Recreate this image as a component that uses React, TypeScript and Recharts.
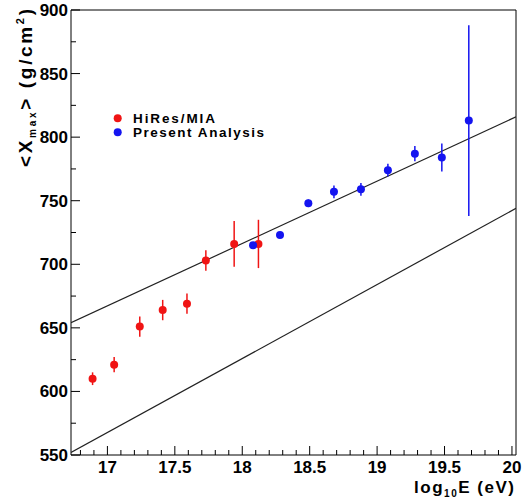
import {
  ComposedChart,
  ErrorBar,
  Legend,
  Line,
  ReferenceArea,
  Scatter,
  XAxis,
  YAxis,
} from "recharts";

// HiRes/MIA points: log10E, <Xmax>, error
const hiresE = [16.89, 17.05, 17.24, 17.41, 17.59, 17.73, 17.94, 18.12];
const hiresXmax = [610, 621, 651, 664, 669, 703, 716, 716];
const hiresErr = [5, 6, 8, 8, 8, 8, 18, 19];

// present analysis
const presentE = [18.08, 18.28, 18.49, 18.68, 18.88, 19.08, 19.28, 19.48, 19.68];
const presentXmax = [715, 723, 748, 757, 759, 774, 787, 784, 813];
const presentErr = [2, 2, 3, 5, 5, 5, 6, 11, 75];

// two reference lines (end points)
const upperLineE = [16.73, 20.03];
const upperLineXmax = [654, 816];
const lowerLineE = [16.73, 20.03];
const lowerLineXmax = [552, 744];

const xDomain = [16.73, 20.03];
const yDomain = [550, 900];

const xTicks = [
  16.8, 16.9, 17, 17.1, 17.2, 17.3, 17.4, 17.5, 17.6, 17.7, 17.8, 17.9, 18,
  18.1, 18.2, 18.3, 18.4, 18.5, 18.6, 18.7, 18.8, 18.9, 19, 19.1, 19.2, 19.3,
  19.4, 19.5, 19.6, 19.7, 19.8, 19.9, 20,
];
const xLabels = [17, 17.5, 18, 18.5, 19, 19.5, 20];
const yTicks = [
  550, 575, 600, 625, 650, 675, 700, 725, 750, 775, 800, 825, 850, 875, 900,
];
const yLabels = [550, 600, 650, 700, 750, 800, 850, 900];

const RED = "#f01414";
const BLUE = "#1414f0";
const FONT = "'Liberation Sans', Arial, sans-serif";

const hiresData = hiresE.map((x, i) => ({ x, y: hiresXmax[i], err: hiresErr[i] }));
const presentData = presentE.map((x, i) => ({
  x,
  y: presentXmax[i],
  err: presentErr[i],
}));
const upperData = upperLineE.map((x, i) => ({ x, y: upperLineXmax[i] }));
const lowerData = lowerLineE.map((x, i) => ({ x, y: lowerLineXmax[i] }));

const XTick = (props: any) => {
  const { x, y, payload } = props;
  const major = xLabels.includes(payload.value);
  return (
    <g>
      <line x1={x} x2={x} y1={y} y2={y - (major ? 9 : 5)} stroke="#000" />
      {major && (
        <text
          x={x}
          y={y + 18}
          textAnchor="middle"
          fontFamily={FONT}
          fontWeight="bold"
          fontSize={17}
          fill="#000"
        >
          {payload.value}
        </text>
      )}
    </g>
  );
};

const YTick = (props: any) => {
  const { x, y, payload } = props;
  const major = yLabels.includes(payload.value);
  return (
    <g>
      <line x1={x} x2={x + (major ? 9 : 5)} y1={y} y2={y} stroke="#000" />
      {major && (
        <text
          x={x - 3}
          y={y + 6}
          textAnchor="end"
          fontFamily={FONT}
          fontWeight="bold"
          fontSize={17}
          fill="#000"
        >
          {payload.value}
        </text>
      )}
    </g>
  );
};

const YTitle = () => (
  <text
    x={32}
    y={9}
    transform="rotate(-90, 32, 9)"
    textAnchor="end"
    fontFamily={FONT}
    fontWeight="bold"
    fontSize={19}
    fill="#000"
    textLength={158}
    lengthAdjust="spacing"
  >
    {"<X"}
    <tspan fontSize={10} dy={4}>
      max
    </tspan>
    <tspan dy={-4}>{"> (g/cm"}</tspan>
    <tspan fontSize={11} dy={-8}>
      2
    </tspan>
    <tspan dy={8}>)</tspan>
  </text>
);

const XTitle = () => (
  <text
    x={514}
    y={493}
    textAnchor="end"
    fontFamily={FONT}
    fontWeight="bold"
    fontSize={17}
    fill="#000"
    textLength={100}
    lengthAdjust="spacing"
  >
    log
    <tspan fontSize={10} dy={4}>
      10
    </tspan>
    <tspan dy={-4}>E (eV)</tspan>
  </text>
);

const LegendBox = () => (
  <svg width={200} height={40}>
    <circle cx={17.7} cy={18.3} r={4} fill={RED} />
    <circle cx={17.7} cy={32.3} r={4} fill={BLUE} />
    <text
      x={33}
      y={23}
      fontFamily={FONT}
      fontWeight="bold"
      fontSize={13.5}
      fill="#000"
      textLength={82}
      lengthAdjust="spacing"
    >
      HiRes/MIA
    </text>
    <text
      x={33}
      y={37}
      fontFamily={FONT}
      fontWeight="bold"
      fontSize={13.5}
      fill="#000"
      textLength={131}
      lengthAdjust="spacing"
    >
      Present Analysis
    </text>
  </svg>
);

const Dot = (color: string) => (props: any) =>
  <circle cx={props.cx} cy={props.cy} r={4} fill={color} />;

export default function App() {
  return (
    <div style={{ position: "absolute", left: 0, top: 0, background: "#fff" }}>
      <ComposedChart
        width={528}
        height={502}
        margin={{ top: 10, right: 12, bottom: 0, left: 0 }}
      >
        <XAxis
          type="number"
          dataKey="x"
          domain={xDomain}
          ticks={xTicks}
          interval={0}
          allowDataOverflow
          height={47}
          tickSize={0}
          tickMargin={0}
          tick={<XTick />}
          axisLine={false}
          label={<XTitle />}
        />
        <YAxis
          type="number"
          dataKey="y"
          domain={yDomain}
          ticks={yTicks}
          interval={0}
          allowDataOverflow
          width={71}
          tickSize={0}
          tickMargin={0}
          tick={<YTick />}
          axisLine={false}
          label={<YTitle />}
        />
        <ReferenceArea
          x1={xDomain[0]}
          x2={xDomain[1]}
          y1={yDomain[0]}
          y2={yDomain[1]}
          fill="none"
          stroke="#000"
          strokeWidth={1}
        />
        <Line
          data={upperData}
          dataKey="y"
          type="linear"
          stroke="#222"
          strokeWidth={1.2}
          dot={false}
          activeDot={false}
          isAnimationActive={false}
        />
        <Line
          data={lowerData}
          dataKey="y"
          type="linear"
          stroke="#222"
          strokeWidth={1.2}
          dot={false}
          activeDot={false}
          isAnimationActive={false}
        />
        <Scatter
          name="HiRes/MIA"
          data={hiresData}
          fill={RED}
          shape={Dot(RED)}
          isAnimationActive={false}
        >
          <ErrorBar dataKey="err" direction="y" width={0} stroke={RED} strokeWidth={1.5} />
        </Scatter>
        <Scatter
          name="Present Analysis"
          data={presentData}
          fill={BLUE}
          shape={Dot(BLUE)}
          isAnimationActive={false}
        >
          <ErrorBar dataKey="err" direction="y" width={0} stroke={BLUE} strokeWidth={1.5} />
        </Scatter>
        <Legend
          layout="vertical"
          align="center"
          verticalAlign="middle"
          wrapperStyle={{ left: 100, top: 100, width: 200 }}
          content={<LegendBox />}
        />
      </ComposedChart>
    </div>
  );
}
